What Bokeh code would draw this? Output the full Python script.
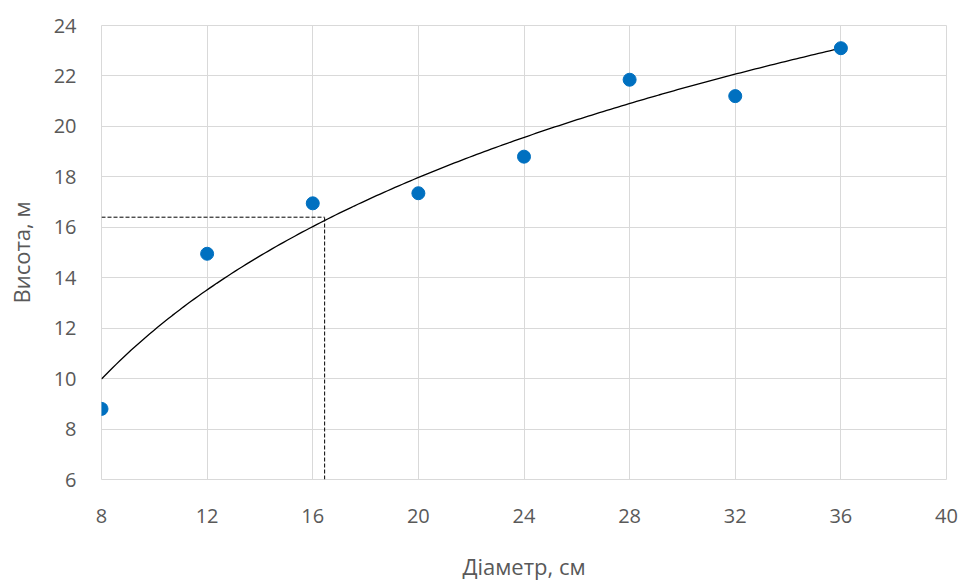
import numpy as np
from bokeh.plotting import figure
from bokeh.models import Range1d, FixedTicker
from bokeh.embed import file_html
from bokeh.resources import INLINE

# data
diameter = [8, 12, 16, 20, 24, 28, 32, 36]
height = [8.8, 14.95, 16.95, 17.35, 18.8, 21.85, 21.2, 23.1]

# logarithmic trend line h = a + b*ln(d), drawn from 8 to 36 cm
trend_a = -8.15
trend_b = 8.72
trend_from, trend_to = 8, 36

# dashed reading lines
read_d = 16.45
read_h = 16.4

x_ticks = [8, 12, 16, 20, 24, 28, 32, 36, 40]
y_ticks = [6, 8, 10, 12, 14, 16, 18, 20, 22, 24]

p = figure(width=960, height=583, output_backend="svg", toolbar_location=None,
           x_range=Range1d(8, 40), y_range=Range1d(6, 24),
           min_border_left=101, min_border_top=25, min_border_right=14, min_border_bottom=104)

grid_col = "#d9d9d9"
p.outline_line_color = grid_col
for g in (p.xgrid, p.ygrid):
    g.grid_line_color = grid_col
    g.grid_line_width = 1

p.xaxis.ticker = FixedTicker(ticks=x_ticks)
p.yaxis.ticker = FixedTicker(ticks=y_ticks)
for ax in (p.xaxis, p.yaxis):
    ax.axis_line_color = None
    ax.major_tick_line_color = None
    ax.minor_tick_line_color = None
    ax.major_label_text_font = "Open Sans"
    ax.major_label_text_font_size = "20px"
    ax.major_label_text_color = "#595959"
    ax.axis_label_text_font = "Open Sans"
    ax.axis_label_text_font_size = "22px"
    ax.axis_label_text_font_style = "normal"
    ax.axis_label_text_color = "#595959"

p.xaxis.axis_label = "Діаметр, см"
p.yaxis.axis_label = "Висота, м"
p.xaxis.major_label_standoff = 23
p.xaxis.axis_label_standoff = 25
p.yaxis.major_label_standoff = 19
p.yaxis.axis_label_standoff = 15

# dashed lines
p.line([8, read_d], [read_h, read_h], line_color="black", line_width=1, line_dash="4 2")
p.line([read_d, read_d], [6, read_h], line_color="black", line_width=1, line_dash="4 2")

# trend line
xs = np.linspace(trend_from, trend_to, 200)
p.line(xs, trend_a + trend_b * np.log(xs), line_color="black", line_width=1.3)

# points
p.scatter(diameter, height, size=13, fill_color="#0070C0", line_color="#0070C0")

open("out.html", "w").write(file_html(p, INLINE))
